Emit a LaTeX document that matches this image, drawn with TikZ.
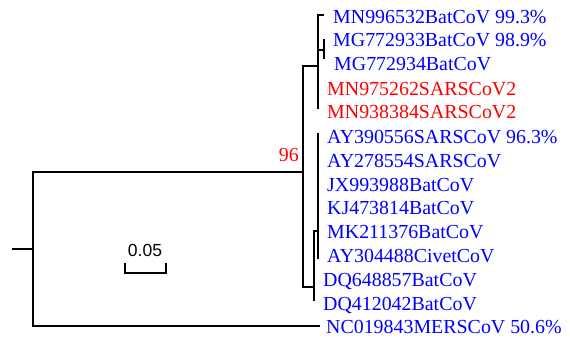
\documentclass[tikz,border=0pt]{standalone}
\usepackage{fontspec}
\setmainfont{Liberation Serif}
\newfontfamily\scalefont{Liberation Sans}
\begin{document}
\begin{tikzpicture}[x=1pt,y=-1pt,
  br/.style={line width=2.2pt,line cap=rect},
  leaf/.style={anchor=west,inner sep=0pt,text height=13pt,text depth=0pt,font=\fontsize{19.9}{20}\selectfont},
  bl/.style={leaf,text=blue},
  rd/.style={leaf,text=red}]
\useasboundingbox (0,0) rectangle (570,341);
% leaves
\node[bl] (l1) at (333,16.5) {MN996532BatCoV 99.3\%};
\node[bl] (l2) at (333,40) {MG772933BatCoV 98.9\%};
\node[bl] (l3) at (334,64) {MG772934BatCoV};
\node[rd] (l4) at (327,88.5) {MN975262SARSCoV2};
\node[rd] (l5) at (327,112) {MN938384SARSCoV2};
\node[bl] (l6) at (327,137) {AY390556SARSCoV 96.3\%};
\node[bl] (l7) at (327,160.5) {AY278554SARSCoV};
\node[bl] (l8) at (327,184.5) {JX993988BatCoV};
\node[bl] (l9) at (327,208) {KJ473814BatCoV};
\node[bl] (l10) at (327,231.5) {MK211376BatCoV};
\node[bl] (l11) at (327,256) {AY304488CivetCoV};
\node[bl] (l12) at (323,280) {DQ648857BatCoV};
\node[bl] (l13) at (323,303.5) {DQ412042BatCoV};
\node[bl] (l14) at (326,326.5) {NC019843MERSCoV 50.6\%};
% tree nodes
\coordinate (stub) at (13,249);
\coordinate (root) at (33,249);
\coordinate (rt) at (33,172);
\coordinate (rb) at (33,326);
\coordinate (mers) at (319,326);
\coordinate (A) at (303,172);
\coordinate (At) at (303,66);
\coordinate (Ab) at (303,287);
\coordinate (U) at (318,66);
\coordinate (Ut) at (318,15);
\coordinate (Ub) at (318,108);
\coordinate (u1) at (323,15);
\coordinate (Us) at (318,50);
\coordinate (S) at (324,50);
\coordinate (St) at (324,40);
\coordinate (Sb) at (324,58);
\coordinate (L) at (314,287);
\coordinate (Lt) at (314,231);
\coordinate (Lb) at (314,300);
\coordinate (C) at (318,231);
\coordinate (Ct) at (318,134);
\coordinate (Cb) at (318,258);
\draw[br] (stub) -- (root);
\draw[br] (rt) -- (rb);
\draw[br] (rt) -- (A);
\draw[br] (rb) -- (mers);
\draw[br] (At) -- (Ab);
\draw[br] (At) -- (U);
\draw[br] (Ut) -- (Ub);
\draw[br] (Ut) -- (u1);
\draw[br] (Us) -- (S);
\draw[br] (St) -- (Sb);
\draw[br] (Ab) -- (L);
\draw[br] (Lt) -- (Lb);
\draw[br] (Lt) -- (C);
\draw[br] (Ct) -- (Cb);
% bootstrap
\node[anchor=east,inner sep=0pt,text height=13pt,text depth=0pt,text=red,font=\fontsize{19.9}{20}\selectfont] (bs) at (299,155) {96};
% scale bar
\coordinate (sb1) at (125,263);
\coordinate (sb2) at (125,273);
\coordinate (sb3) at (166,273);
\coordinate (sb4) at (166,263);
\draw[br,line cap=butt] (sb1) -- (sb2) -- (sb3) -- (sb4);
\node[inner sep=0pt,text height=13pt,text depth=0pt,font=\scalefont\fontsize{17.5}{18}\selectfont] (sl) at (145,250) {0.05};
\end{tikzpicture}
\end{document}
